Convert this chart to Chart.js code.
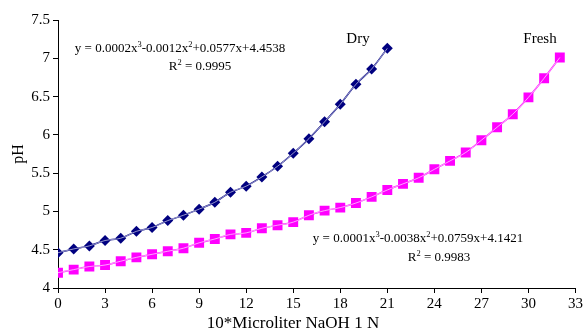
<!DOCTYPE html>
<html>
<head>
<meta charset="utf-8">
<script src="https://cdn.jsdelivr.net/npm/chart.js@4"></script>
<style>
  html, body { margin: 0; padding: 0; background: #fff; }
  #wrap { width: 585px; height: 330px; }
</style>
</head>
<body>
<div id="wrap"><canvas id="phChart" width="585" height="330"></canvas></div>
<script>
// titration data
const dryX = [0, 1, 2, 3, 4, 5, 6, 7, 8, 9, 10, 11, 12, 13, 14, 15, 16, 17, 18, 19, 20, 21];
const dryPH = [4.46, 4.51, 4.55, 4.62, 4.65, 4.74, 4.79, 4.88, 4.95, 5.03, 5.12, 5.25, 5.33, 5.45, 5.59, 5.76, 5.95, 6.17, 6.40, 6.66, 6.86, 7.13];

const freshX = [0, 1, 2, 3, 4, 5, 6, 7, 8, 9, 10, 11, 12, 13, 14, 15, 16, 17, 18, 19, 20, 21, 22, 23, 24, 25, 26, 27, 28, 29, 30, 31, 32];
const freshPH = [4.20, 4.24, 4.28, 4.30, 4.35, 4.40, 4.44, 4.48, 4.52, 4.59, 4.64, 4.70, 4.72, 4.78, 4.82, 4.86, 4.95, 5.01, 5.05, 5.11, 5.19, 5.28, 5.36, 5.44, 5.55, 5.66, 5.77, 5.93, 6.10, 6.27, 6.49, 6.74, 7.01];

const xTicks = [0, 3, 6, 9, 12, 15, 18, 21, 24, 27, 30, 33];
const yTicks = [4, 4.5, 5, 5.5, 6, 6.5, 7, 7.5];

const toPts = (xs, ys) => xs.map((x, i) => ({ x: x, y: ys[i] }));

const serif = '"Liberation Serif", "DejaVu Serif", serif';

// equation text with superscripts, drawn piece by piece
function drawEq(ctx, parts, cx, y, size) {
  let total = 0;
  parts.forEach(p => {
    ctx.font = (p.sup ? size * 0.65 : size) + 'px ' + serif;
    total += ctx.measureText(p.t).width;
  });
  let x = cx - total / 2;
  parts.forEach(p => {
    ctx.font = (p.sup ? size * 0.65 : size) + 'px ' + serif;
    ctx.fillText(p.t, x, p.sup ? y - size * 0.38 : y);
    x += ctx.measureText(p.t).width;
  });
}

const labelsPlugin = {
  id: 'labels',
  afterDatasetsDraw(chart) {
    const ctx = chart.ctx;
    ctx.save();
    ctx.fillStyle = '#000';
    ctx.textBaseline = 'alphabetic';
    ctx.textAlign = 'left';
    drawEq(ctx, [{ t: 'y = 0.0002x' }, { t: '3', sup: true }, { t: '-0.0012x' }, { t: '2', sup: true }, { t: '+0.0577x+4.4538' }], 180, 52, 13);
    drawEq(ctx, [{ t: 'R' }, { t: '2', sup: true }, { t: ' = 0.9995' }], 200, 70, 13);
    drawEq(ctx, [{ t: 'y = 0.0001x' }, { t: '3', sup: true }, { t: '-0.0038x' }, { t: '2', sup: true }, { t: '+0.0759x+4.1421' }], 418, 242, 13);
    drawEq(ctx, [{ t: 'R' }, { t: '2', sup: true }, { t: ' = 0.9983' }], 439, 261, 13);
    ctx.font = '15px ' + serif;
    ctx.textAlign = 'center';
    ctx.fillText('Dry', 358, 43);
    ctx.fillText('Fresh', 540, 43);
    // axis titles
    ctx.font = '17px ' + serif;
    ctx.fillText('10*Microliter NaOH 1 N', 293, 328);
    ctx.translate(19, 154);
    ctx.rotate(-Math.PI / 2);
    ctx.textBaseline = 'middle';
    ctx.font = '16px ' + serif;
    ctx.fillText('pH', 0, 0);
    ctx.restore();
  }
};

new Chart(document.getElementById('phChart').getContext('2d'), {
  type: 'scatter',
  data: {
    datasets: [
      {
        label: 'Dry',
        data: toPts(dryX, dryPH),
        showLine: true,
        tension: 0.3,
        borderColor: '#000080',
        borderWidth: 1.5,
        backgroundColor: '#000080',
        pointStyle: 'rectRot',
        pointRadius: 5.5,
        pointBorderWidth: 0,
        order: 2
      },
      {
        label: 'Dry trend',
        data: toPts(dryX, dryPH),
        showLine: true,
        tension: 0.4,
        borderColor: 'rgba(255,255,255,0.75)',
        borderWidth: 0.8,
        pointRadius: 0,
        order: 1
      },
      {
        label: 'Fresh',
        data: toPts(freshX, freshPH),
        showLine: true,
        tension: 0.3,
        borderColor: '#ff00ff',
        borderWidth: 1.5,
        backgroundColor: '#ff00ff',
        pointStyle: 'rect',
        pointRadius: 7,
        pointBorderWidth: 0,
        order: 2
      },
      {
        label: 'Fresh trend',
        data: toPts(freshX, freshPH),
        showLine: true,
        tension: 0.4,
        borderColor: 'rgba(255,255,255,0.8)',
        borderWidth: 0.8,
        pointRadius: 0,
        order: 1
      }
    ]
  },
  options: {
    responsive: false,
    animation: false,
    layout: { padding: { top: 20, right: 9, left: 0, bottom: 0 } },
    plugins: {
      legend: { display: false },
      tooltip: { enabled: false }
    },
    scales: {
      x: {
        type: 'linear',
        min: 0,
        max: 33,
        afterBuildTicks: s => { s.ticks = xTicks.map(v => ({ value: v })); },
        afterFit: s => { s.height = 42; },
        border: { display: true, color: '#000', width: 1 },
        grid: { drawOnChartArea: false, drawTicks: true, tickLength: 5, color: '#000' },
        ticks: { color: '#000', padding: 2, callback: v => String(v), font: { family: serif, size: 15 } }
      },
      y: {
        min: 4,
        max: 7.5,
        afterBuildTicks: s => { s.ticks = yTicks.map(v => ({ value: v })); },
        afterFit: s => { s.width = 58; },
        border: { display: true, color: '#000', width: 1 },
        grid: { drawOnChartArea: false, drawTicks: true, tickLength: 5, color: '#000' },
        ticks: { color: '#000', padding: 3, callback: v => String(v), font: { family: serif, size: 15 } }
      }
    }
  },
  plugins: [labelsPlugin]
});
</script>
</body>
</html>
